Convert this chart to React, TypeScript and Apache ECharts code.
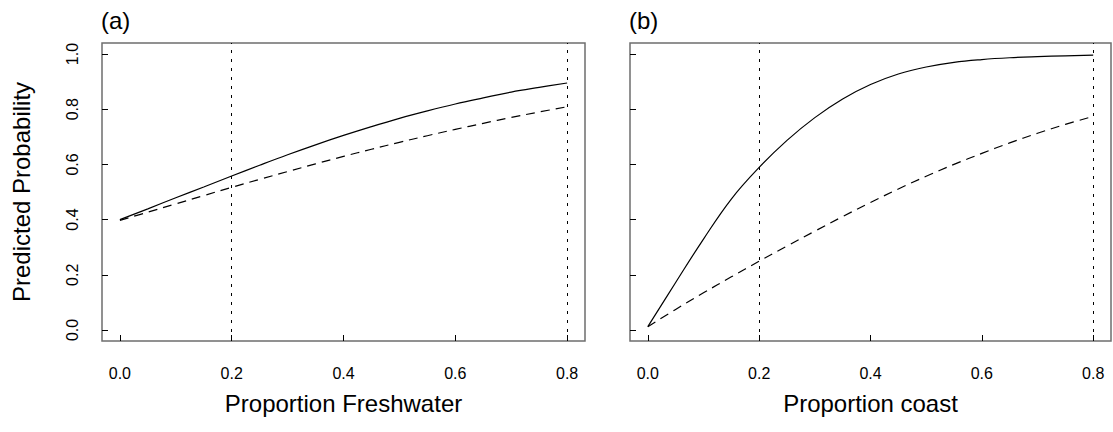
import React, { useEffect, useRef } from "react";
import * as echarts from "echarts";

// Shared x positions (proportion of habitat)
const xValues = [0, 0.05, 0.1, 0.15, 0.2, 0.25, 0.3, 0.35, 0.4, 0.45, 0.5, 0.55, 0.6, 0.65, 0.7, 0.75, 0.8];

// Panel (a): proportion freshwater
const freshSolid = [0.4, 0.439, 0.479, 0.518, 0.558, 0.597, 0.635, 0.671, 0.705, 0.737, 0.767, 0.794, 0.819, 0.841, 0.862, 0.879, 0.895];
const freshDashed = [0.397, 0.427, 0.457, 0.487, 0.517, 0.546, 0.574, 0.602, 0.629, 0.655, 0.68, 0.704, 0.727, 0.749, 0.77, 0.79, 0.809];

// Panel (b): proportion coast
const coastSolid = [0.012, 0.172, 0.3295, 0.4745, 0.589, 0.687, 0.7695, 0.837, 0.8895, 0.9275, 0.953, 0.97, 0.98, 0.9865, 0.9905, 0.9935, 0.996];
const coastDashed = [0.012, 0.0745, 0.1345, 0.1925, 0.249, 0.304, 0.358, 0.411, 0.462, 0.511, 0.557, 0.6, 0.64, 0.678, 0.713, 0.745, 0.774];

const xTicks = [0, 0.2, 0.4, 0.6, 0.8];
const yTicks = [0, 0.2, 0.4, 0.6, 0.8, 1.0];
const refLines = [0.2, 0.8];
const panelTitles = ["(a)", "(b)"];
const xTitles = ["Proportion Freshwater", "Proportion coast"];
const yTitle = "Predicted Probability";

const FONT = "'Liberation Sans', Arial, Helvetica, sans-serif";

const pairs = (ys: number[]) => xValues.map((x, i) => [x, ys[i]]);

export default function App() {
  const ref = useRef<HTMLDivElement>(null);

  useEffect(() => {
    document.body.style.margin = "0";
    const chart = echarts.init(ref.current!, null, { renderer: "svg" });

    const grids = [
      { left: 102, top: 43, width: 483, height: 298 },
      { left: 630, top: 43, width: 481, height: 298 },
    ].map((g) => ({ ...g, show: true, borderColor: "#6e6e6e", borderWidth: 1.5, backgroundColor: "transparent" }));

    const xAxes = [0, 1].map((i) => ({
      type: "value",
      gridIndex: i,
      position: "bottom",
      min: -0.032,
      max: 0.832,
      name: xTitles[i],
      nameLocation: "middle",
      nameGap: 50,
      nameTextStyle: { fontFamily: FONT, fontSize: 24, color: "#000" },
      axisLine: { show: false, onZero: false },
      splitLine: { show: false },
      axisTick: { show: true, inside: true, length: 6, customValues: xTicks, lineStyle: { color: "#000", width: 1 } },
      axisLabel: {
        show: true,
        customValues: xTicks,
        margin: 24,
        fontFamily: FONT,
        fontSize: 16,
        color: "#000",
        formatter: (v: number) => v.toFixed(1),
      },
    }));

    const yAxes = [0, 1].map((i) => ({
      type: "value",
      gridIndex: i,
      position: "left",
      min: -0.04,
      max: 1.04,
      name: i === 0 ? yTitle : "",
      nameLocation: "middle",
      nameRotate: 90,
      nameGap: 69,
      nameTextStyle: { fontFamily: FONT, fontSize: 24, color: "#000" },
      axisLine: { show: false, onZero: false },
      splitLine: { show: false },
      axisTick: { show: true, inside: true, length: 6, customValues: yTicks, lineStyle: { color: "#000", width: 1 } },
      axisLabel: {
        show: i === 0,
        customValues: yTicks,
        rotate: 90,
        margin: 22,
        fontFamily: FONT,
        fontSize: 16,
        color: "#000",
        formatter: (v: number) => v.toFixed(1),
      },
    }));

    const lineSeries = (i: number, ys: number[], dashed: boolean, withRefs: boolean) => ({
      type: "line",
      xAxisIndex: i,
      yAxisIndex: i,
      data: pairs(ys),
      showSymbol: false,
      smooth: 0.4,
      lineStyle: { color: "#000", width: 1.2, type: dashed ? [9, 6] : "solid" },
      markLine: withRefs
        ? {
            silent: true,
            symbol: ["none", "none"],
            label: { show: false },
            lineStyle: { color: "#000", width: 1, type: [3, 6] },
            data: refLines.map((x) => ({ xAxis: x })),
          }
        : undefined,
    });

    chart.setOption({
      animation: false,
      backgroundColor: "#fff",
      title: panelTitles.map((t, i) => ({
        text: t,
        left: grids[i].left - 1,
        top: 8,
        padding: 0,
        textStyle: { fontFamily: FONT, fontSize: 24, fontWeight: "normal", color: "#000" },
      })),
      grid: grids,
      xAxis: xAxes,
      yAxis: yAxes,
      series: [
        lineSeries(0, freshSolid, false, true),
        lineSeries(0, freshDashed, true, false),
        lineSeries(1, coastSolid, false, true),
        lineSeries(1, coastDashed, true, false),
      ],
    });

    return () => chart.dispose();
  }, []);

  return <div ref={ref} style={{ width: 1113, height: 432 }} />;
}
